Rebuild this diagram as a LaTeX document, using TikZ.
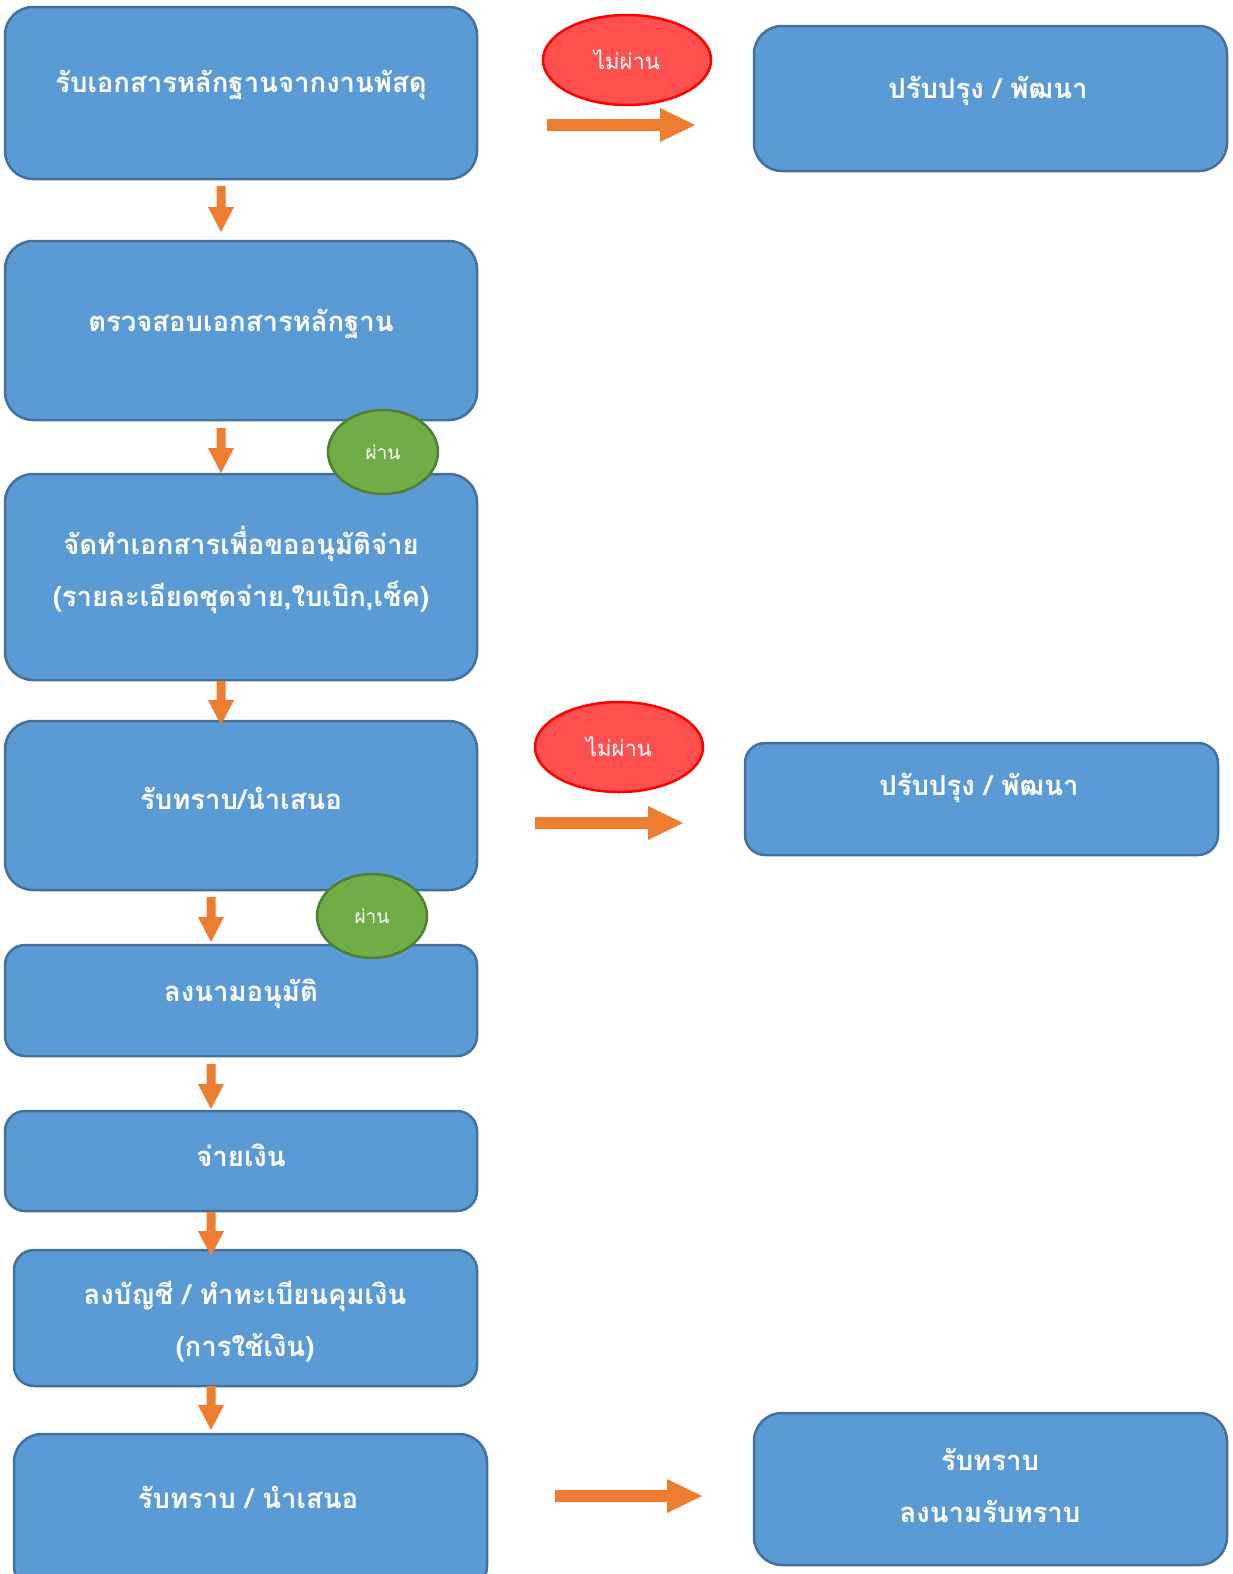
\documentclass[tikz,border=0pt]{standalone}
\usepackage{fontspec}
\newfontfamily\thaifont[Script=Thai]{Loma}
\usetikzlibrary{shapes.geometric}
\definecolor{boxfill}{HTML}{5B9BD5}
\definecolor{boxline}{HTML}{41719C}
\definecolor{arr}{HTML}{ED7D31}
\definecolor{redfill}{HTML}{FF5050}
\definecolor{redline}{HTML}{FF0000}
\definecolor{grfill}{HTML}{70AD47}
\definecolor{grline}{HTML}{507E32}
\newcommand\harrowx[3]{\fill[arr] (#1,#3-6) -- (#2-35,#3-6) -- (#2-35,#3-17) -- (#2,#3) -- (#2-35,#3+17) -- (#2-35,#3+6) -- (#1,#3+6) -- cycle;}
\newcommand\varrowx[3]{\fill[arr] (#1-4.5,#2) -- (#1+4.5,#2) -- (#1+4.5,#3-25) -- (#1+13,#3-25) -- (#1,#3) -- (#1-13,#3-25) -- (#1-4.5,#3-25) -- cycle;}
\begin{document}
\begin{tikzpicture}[x=1pt,y=-1pt,
  box/.style={draw=boxline,fill=boxfill,line width=2.5pt,rounded corners=28pt,inner sep=0pt},
  sbox/.style={box,rounded corners=20pt},
  btxt/.style={text=white,font=\thaifont\bfseries\fontsize{27.5}{52}\selectfont,align=center,inner sep=0pt},
  redov/.style={ellipse,draw=redline,fill=redfill,line width=2.5pt,inner sep=0pt,text=white,font=\thaifont\fontsize{22}{26}\selectfont},
  grov/.style={ellipse,draw=grline,fill=grfill,line width=2.5pt,inner sep=0pt,text=white,font=\thaifont\fontsize{19}{24}\selectfont}]
\useasboundingbox (0,0) rectangle (1233,1574);
% left column boxes
\node[box,minimum width=472pt,minimum height=172pt] (b1) at (241,93) {};
\node[box,minimum width=472pt,minimum height=179pt] (b2) at (241,330.5) {};
\node[box,minimum width=472pt,minimum height=206pt] (b3) at (241,577) {};
\node[box,minimum width=472pt,minimum height=169pt] (b4) at (241,805.5) {};
\node[sbox,minimum width=472pt,minimum height=111pt] (b5) at (241,1000.5) {};
\node[sbox,minimum width=472pt,minimum height=100pt] (b6) at (241,1161) {};
\node[sbox,minimum width=463pt,minimum height=136pt] (b7) at (245.5,1318) {};
\node[box,minimum width=473pt,minimum height=160pt] (b8) at (250.5,1514) {};
% right boxes
\node[box,minimum width=473pt,minimum height=145pt] (r1) at (990.5,98.5) {};
\node[sbox,minimum width=473pt,minimum height=112pt] (r2) at (981.5,799) {};
\node[box,minimum width=473pt,minimum height=152pt] (r3) at (990.5,1489) {};
% texts
\node[btxt] (t1) at (241,85) {รับเอกสารหลักฐานจากงานพัสดุ};
\node[btxt] (t2) at (241,324) {ตรวจสอบเอกสารหลักฐาน};
\node[btxt] (t3) at (241,570) {จัดทำเอกสารเพื่อขออนุมัติจ่าย\\(รายละเอียดชุดจ่าย,ใบเบิก,เช็ค)};
\node[btxt] (t4) at (241,798) {รับทราบ/นำเสนอ};
\node[btxt] (t5) at (241,994) {ลงนามอนุมัติ};
\node[btxt] (t6) at (241,1155) {จ่ายเงิน};
\node[btxt] (t7) at (245,1322) {ลงบัญชี / ทำทะเบียนคุมเงิน\\(การใช้เงิน)};
\node[btxt] (t8) at (248,1497) {รับทราบ / นำเสนอ};
\node[btxt] (rt1) at (988,91) {ปรับปรุง / พัฒนา};
\node[btxt] (rt2) at (979,788) {ปรับปรุง / พัฒนา};
\node[btxt] (rt3) at (990,1485) {รับทราบ\\ลงนามรับทราบ};
% ovals
\node[redov,minimum width=168pt,minimum height=90pt] (e1) at (627,60) {ไม่ผ่าน};
\node[redov,minimum width=168pt,minimum height=90pt] (e2) at (619,747) {ไม่ผ่าน};
\node[grov,minimum width=110pt,minimum height=84pt] (g1) at (383,452) {ผ่าน};
\node[grov,minimum width=110pt,minimum height=84pt] (g2) at (372,916) {ผ่าน};
% arrows
\harrowx{547}{695}{125}
\harrowx{535}{683}{823}
\harrowx{555}{702}{1496}
\varrowx{221}{186}{232}
\varrowx{221}{428}{473}
\varrowx{221}{681}{725}
\varrowx{211}{897}{942}
\varrowx{211}{1064}{1109}
\varrowx{211}{1212}{1256}
\varrowx{211}{1386}{1430}
\end{tikzpicture}
\end{document}
